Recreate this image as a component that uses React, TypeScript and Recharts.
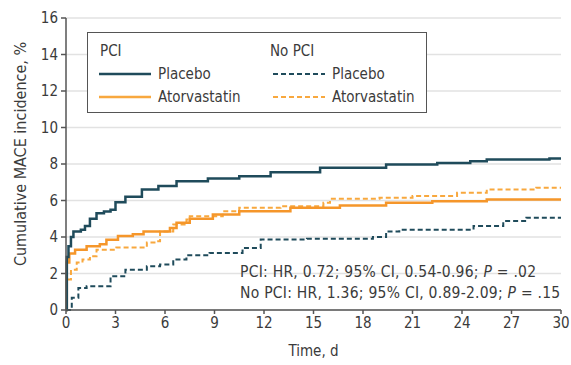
import React from 'react';
import { LineChart, Line, XAxis, YAxis, CartesianGrid, Label } from 'recharts';

// values (day, cumulative %)
const pciPlaceboDays = [0, 0.05, 0.15, 0.3, 0.45, 0.9, 1.15, 1.45, 1.85, 2.3, 2.7, 3.0, 3.6, 4.6, 5.6, 6.7, 8.6, 10.5, 12.4, 15.4, 19.4, 22.5, 24.5, 25.5, 29.3, 30];
const pciPlaceboPct = [0, 2.9, 3.5, 4.0, 4.3, 4.4, 4.6, 5.0, 5.3, 5.4, 5.5, 5.9, 6.2, 6.6, 6.8, 7.05, 7.2, 7.33, 7.55, 7.8, 7.97, 8.06, 8.15, 8.25, 8.3, 8.3];

const pciAtorvaDays = [0, 0.05, 0.2, 0.55, 1.25, 2.05, 2.45, 3.15, 4.05, 4.7, 6.3, 6.7, 7.5, 8.9, 10.5, 13.6, 16.6, 19.4, 22.2, 25.5, 30];
const pciAtorvaPct = [0, 2.6, 3.1, 3.3, 3.5, 3.6, 3.85, 4.05, 4.15, 4.3, 4.5, 4.78, 5.0, 5.23, 5.41, 5.6, 5.72, 5.87, 5.96, 6.05, 6.05];

const noPciPlaceboDays = [0, 0.35, 0.75, 1.25, 2.7, 3.6, 4.9, 5.7, 6.5, 7.3, 8.7, 10.7, 11.8, 14.6, 18.6, 19.4, 20.2, 24.7, 26.5, 27.9, 30];
const noPciPlaceboPct = [0, 0.67, 1.2, 1.3, 1.85, 2.2, 2.4, 2.5, 2.77, 3.0, 3.13, 3.4, 3.86, 3.9, 4.0, 4.3, 4.4, 4.6, 4.87, 5.05, 5.05];

const noPciAtorvaDays = [0, 0.05, 0.3, 0.65, 1.0, 1.45, 1.85, 3.05, 4.9, 5.5, 5.7, 6.5, 7.3, 7.5, 9.5, 10.5, 13, 15.6, 16, 19, 21, 23.7, 25.5, 28.5, 30];
const noPciAtorvaPct = [0, 1.67, 2.2, 2.6, 2.77, 2.95, 3.3, 3.42, 3.7, 3.77, 4.3, 4.68, 4.96, 5.14, 5.41, 5.6, 5.69, 5.87, 6.09, 6.15, 6.24, 6.42, 6.6, 6.7, 6.7];

const xTicks = [0, 3, 6, 9, 12, 15, 18, 21, 24, 27, 30];
const yTicks = [0, 2, 4, 6, 8, 10, 12, 14, 16];

const zip = (days: number[], pct: number[]) => days.map((t, i) => ({ t, v: pct[i] }));

const FONT = "'DejaVu Sans Condensed', 'DejaVu Sans', sans-serif";
const DARK = '#1f4b5b';
const ORANGE = '#f5962a';
const ORANGE_LIGHT = '#f8a83e';
const TEXT = '#3b3b3b';

const LegendRow = ({ top, left, color, dashed, label }: any) => (
  <div style={{ position: 'absolute', top, left, display: 'flex', alignItems: 'center' }}>
    <svg width={52} height={4} style={{ marginRight: 7 }}>
      <line x1={0} y1={2} x2={52} y2={2} stroke={color} strokeWidth={dashed ? 2 : 2.5}
        strokeDasharray={dashed ? '5 3' : undefined} />
    </svg>
    <span>{label}</span>
  </div>
);

export default function App() {
  return (
    <div style={{ position: 'absolute', left: 0, top: 0, width: 571, height: 365, background: '#fff', fontFamily: FONT, color: TEXT }}>
      <LineChart width={571} height={365} margin={{ top: 18, right: 10, bottom: 5, left: 5 }}>
        <CartesianGrid vertical={false} stroke="#e2e2e2" strokeWidth={1.5} />
        <XAxis
          type="number"
          dataKey="t"
          domain={[0, 30]}
          ticks={xTicks}
          allowDuplicatedCategory={false}
          height={50}
          stroke="#555"
          strokeWidth={1.5}
          tickSize={4}
          tickMargin={3}
          tick={{ fontSize: 15, fill: TEXT, fontFamily: FONT }}
        >
          <Label
            content={({ viewBox }: any) => (
              <text x={viewBox.x + viewBox.width / 2} y={viewBox.y + 46} textAnchor="middle"
                fontSize={15} fill={TEXT} fontFamily={FONT}>Time, d</text>
            )}
          />
        </XAxis>
        <YAxis
          type="number"
          domain={[0, 16]}
          ticks={yTicks}
          width={61}
          stroke="#555"
          strokeWidth={1.5}
          tickSize={5}
          tickMargin={3}
          tick={{ fontSize: 15, fill: TEXT, fontFamily: FONT }}
        >
          <Label
            content={({ viewBox }: any) => {
              const cx = viewBox.x + 21;
              const cy = viewBox.y + viewBox.height / 2 - 10;
              return (
                <text x={cx} y={cy} transform={`rotate(-90 ${cx} ${cy})`} textAnchor="middle"
                  fontSize={16} fill={TEXT} fontFamily={FONT}>Cumulative MACE incidence, %</text>
              );
            }}
          />
        </YAxis>
        <Line data={zip(noPciPlaceboDays, noPciPlaceboPct)} dataKey="v" type="stepAfter" stroke={DARK}
          strokeWidth={2} strokeDasharray="5 3" dot={false} isAnimationActive={false} />
        <Line data={zip(noPciAtorvaDays, noPciAtorvaPct)} dataKey="v" type="stepAfter" stroke={ORANGE_LIGHT}
          strokeWidth={2} strokeDasharray="5 3" dot={false} isAnimationActive={false} />
        <Line data={zip(pciAtorvaDays, pciAtorvaPct)} dataKey="v" type="stepAfter" stroke={ORANGE}
          strokeWidth={2.5} dot={false} isAnimationActive={false} />
        <Line data={zip(pciPlaceboDays, pciPlaceboPct)} dataKey="v" type="stepAfter" stroke={DARK}
          strokeWidth={2.5} dot={false} isAnimationActive={false} />
      </LineChart>

      {/* legend box */}
      <div style={{ position: 'absolute', left: 87, top: 32, width: 340, height: 81, border: '1.5px solid #555',
        background: '#fff', fontSize: 15, lineHeight: '18px', boxSizing: 'border-box' }}>
        <div style={{ position: 'absolute', left: 12, top: 9 }}>PCI</div>
        <div style={{ position: 'absolute', left: 182, top: 9 }}>No PCI</div>
        <LegendRow top={32} left={11} color={DARK} label="Placebo" />
        <LegendRow top={55} left={11} color={ORANGE_LIGHT} label="Atorvastatin" />
        <LegendRow top={32} left={185} color={DARK} dashed label="Placebo" />
        <LegendRow top={55} left={185} color={ORANGE_LIGHT} dashed label="Atorvastatin" />
      </div>

      {/* hazard ratio notes */}
      <div style={{ position: 'absolute', left: 240, top: 262, fontSize: 15.5, letterSpacing: 0.25, lineHeight: '21px', whiteSpace: 'nowrap' }}>
        <div>PCI: HR, 0.72; 95% CI, 0.54-0.96; <i>P</i> = .02</div>
        <div>No PCI: HR, 1.36; 95% CI, 0.89-2.09; <i>P</i> = .15</div>
      </div>
    </div>
  );
}
